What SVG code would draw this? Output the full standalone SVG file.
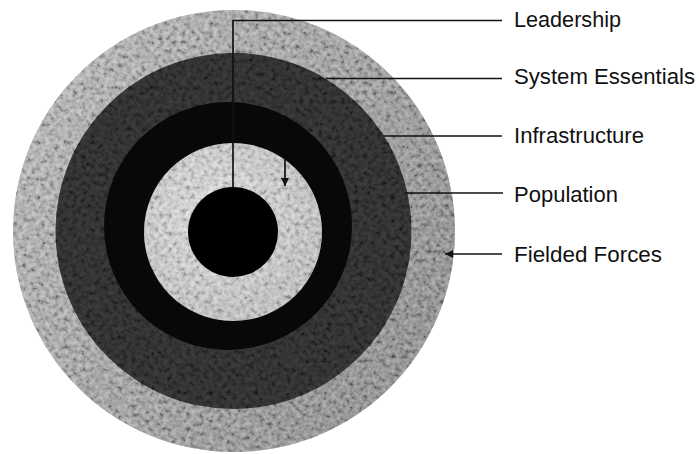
<svg xmlns="http://www.w3.org/2000/svg" width="699" height="454" viewBox="0 0 699 454">
  <defs>
    <style>
      .lbl { font-family: "Liberation Sans", Arial, Helvetica, sans-serif; font-size: 21.5px; fill: #111; }
      .ln { stroke: #111; stroke-width: 1.7; fill: none; }
    </style>
    <linearGradient id="gOuter" x1="0" y1="0.2" x2="1" y2="0.8">
      <stop offset="0" stop-color="#b6b6b6"/>
      <stop offset="0.5" stop-color="#9a9a9a"/>
      <stop offset="1" stop-color="#7e7e7e"/>
    </linearGradient>
    <radialGradient id="gPop" cx="0.4" cy="0.4" r="0.7">
      <stop offset="0" stop-color="#e4e4e4"/>
      <stop offset="1" stop-color="#bdbdbd"/>
    </radialGradient>
    <filter id="grain" x="0" y="0" width="1" height="1" filterUnits="objectBoundingBox">
      <feTurbulence type="fractalNoise" baseFrequency="0.22" numOctaves="3" seed="7" result="t"/>
      <feColorMatrix in="t" type="matrix" values="1.8 0 0 0 -0.4  1.8 0 0 0 -0.4  1.8 0 0 0 -0.4  0 0 0 0 1"/>
      <feComposite in2="SourceGraphic" operator="in"/>
    </filter>
    <marker id="arr" viewBox="0 0 10 10" refX="10" refY="5" markerWidth="8" markerHeight="8" markerUnits="userSpaceOnUse" orient="auto">
      <path d="M0,0 L10,5 L0,10 z" fill="#111"/>
    </marker>
  </defs>

  <g id="fielded-forces">
    <circle cx="234" cy="231" r="221" fill="url(#gOuter)"/>
    <circle cx="234" cy="231" r="221" fill="#888" filter="url(#grain)" opacity="0.35"/>
  </g>
  <g id="system-essentials">
    <circle cx="233.5" cy="231" r="178" fill="#1c1c1c"/>
    <circle cx="233.5" cy="231" r="178" fill="#444" filter="url(#grain)" opacity="0.15"/>
  </g>
  <g id="infrastructure">
    <circle cx="228" cy="226" r="124" fill="#080808"/>
  </g>
  <g id="population">
    <circle cx="233" cy="232" r="89" fill="url(#gPop)"/>
    <circle cx="233" cy="232" r="89" fill="#bbb" filter="url(#grain)" opacity="0.3"/>
  </g>
  <g id="leadership">
    <circle cx="233" cy="232" r="45" fill="#000"/>
  </g>

  <g id="connectors">
    <polyline class="ln" points="233,187 233,20.5 502,20.5"/>
    <line class="ln" x1="326" y1="78.5" x2="502" y2="78.5"/>
    <line class="ln" x1="383" y1="136" x2="502" y2="136"/>
    <line class="ln" x1="405" y1="193" x2="503" y2="193"/>
    <line class="ln" x1="502" y1="254" x2="445" y2="254" marker-end="url(#arr)"/>
    <line class="ln" x1="285" y1="158" x2="285" y2="186" marker-end="url(#arr)"/>
  </g>

  <g id="labels">
    <text class="lbl" x="514" y="27" textLength="107" lengthAdjust="spacingAndGlyphs">Leadership</text>
    <text class="lbl" x="514" y="84" textLength="181" lengthAdjust="spacingAndGlyphs">System Essentials</text>
    <text class="lbl" x="514" y="143" textLength="130" lengthAdjust="spacingAndGlyphs">Infrastructure</text>
    <text class="lbl" x="514" y="202" textLength="104" lengthAdjust="spacingAndGlyphs">Population</text>
    <text class="lbl" x="514" y="262" textLength="148" lengthAdjust="spacingAndGlyphs">Fielded Forces</text>
  </g>
</svg>
